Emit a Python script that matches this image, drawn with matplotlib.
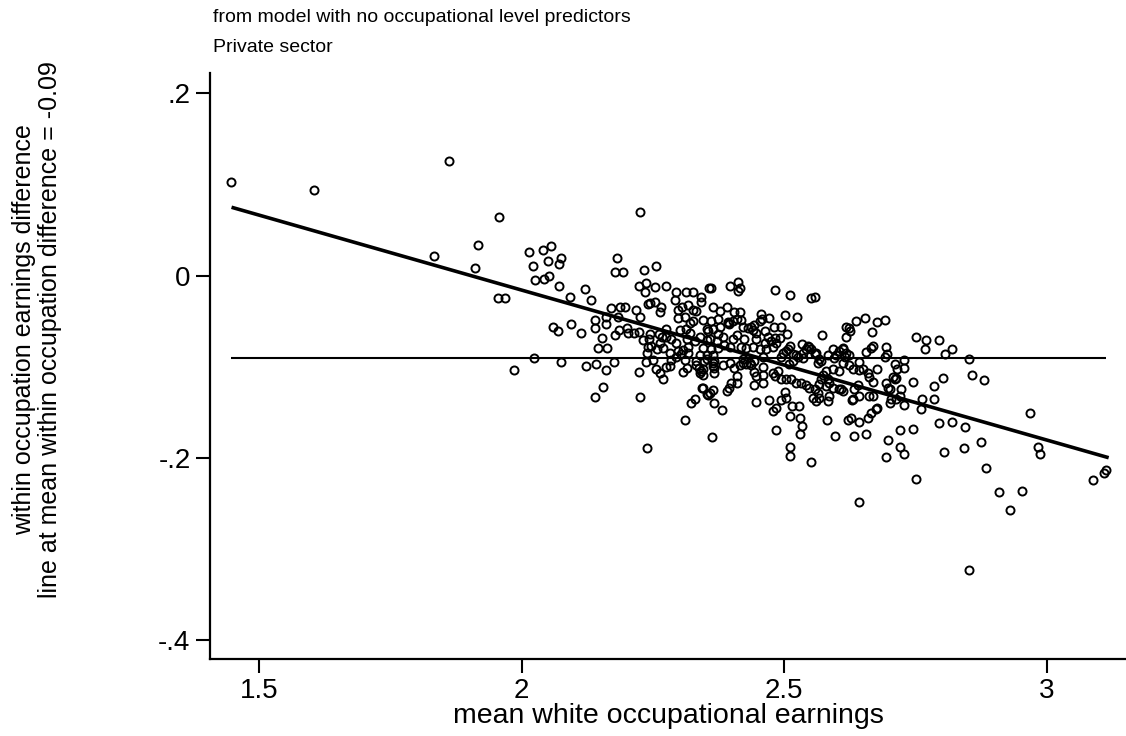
import matplotlib
matplotlib.use("Agg")
import matplotlib.pyplot as plt
import numpy as np

# ---------------- data ----------------
earn_x = [
    1.446, 1.605, 1.861, 1.957, 1.916, 1.832, 1.910, 1.954, 1.968, 1.985, 2.023,
    2.013, 2.041, 2.055, 2.021, 2.049, 2.074, 2.070, 2.026, 2.042, 2.051, 2.070, 2.091, 2.120, 2.131,
    2.226, 2.181, 2.177, 2.193, 2.232, 2.255, 2.224, 2.236, 2.234, 2.240, 2.169, 2.188, 2.197, 2.217,
    2.226, 2.160, 2.184, 2.139, 2.161, 2.139, 2.059, 2.068, 2.093, 2.112, 2.152, 2.177, 2.185, 2.200,
    2.203, 2.214, 2.224, 2.231, 2.146, 2.162,
    2.074, 2.123, 2.142, 2.161, 2.175, 2.155, 2.139, 2.223, 2.226, 2.237, 2.239, 2.240, 2.239, 2.250,
    2.253, 2.275, 2.294, 2.313, 2.326, 2.341, 2.356, 2.291, 2.341, 2.317, 2.305, 2.327, 2.331, 2.297,
    2.266, 2.263, 2.244, 2.253, 2.298, 2.311, 2.326, 2.320, 2.345,
    2.244, 2.242, 2.247, 2.261, 2.267, 2.263, 2.269, 2.258,
    2.275, 2.275, 2.285, 2.294, 2.301, 2.312, 2.320, 2.315, 2.316, 2.307, 2.297, 2.282, 2.329, 2.339,
    2.352, 2.352, 2.346, 2.352,
    2.360, 2.397, 2.412, 2.415, 2.411, 2.483, 2.511, 2.550, 2.559,
    2.364, 2.377, 2.390, 2.361, 2.374, 2.405, 2.416, 2.409, 2.418, 2.402, 2.393, 2.394, 2.392,
    2.456, 2.458, 2.471, 2.453, 2.501, 2.525, 2.480, 2.493, 2.505, 2.437, 2.443, 2.431, 2.440, 2.447,
    2.421, 2.424, 2.409, 2.402, 2.418, 2.428, 2.463, 2.469, 2.482, 2.491, 2.475, 2.463, 2.447, 2.440,
    2.453, 2.364, 2.374, 2.383, 2.377, 2.355, 2.358, 2.371, 2.386, 2.396, 2.361, 2.510, 2.507, 2.497,
    2.494, 2.534, 2.545, 2.550, 2.558, 2.535, 2.523, 2.572, 2.618, 2.618, 2.612, 2.599,
    2.269, 2.256, 2.263, 2.275, 2.282, 2.285, 2.304, 2.294, 2.307, 2.315, 2.310, 2.323, 2.329, 2.344,
    2.332, 2.332, 2.345, 2.352, 2.364, 2.367, 2.367, 2.316, 2.339, 2.364, 2.374, 2.355, 2.364, 2.358,
    2.367, 2.382, 2.363, 2.390, 2.395, 2.399, 2.409, 2.410, 2.405, 2.396, 2.384, 2.421, 2.434, 2.443,
    2.447, 2.459, 2.459, 2.443, 2.447, 2.470, 2.485, 2.478, 2.494, 2.504, 2.501, 2.485, 2.511, 2.530,
    2.534, 2.530, 2.511, 2.511, 2.550, 2.515, 2.528, 2.582, 2.596, 2.621,
    2.459, 2.466, 2.478, 2.485, 2.504, 2.516, 2.526, 2.535, 2.542, 2.548, 2.561, 2.564, 2.570, 2.583,
    2.593, 2.605, 2.612, 2.618,
    2.478, 2.482, 2.488, 2.494, 2.504, 2.513, 2.523, 2.532, 2.542, 2.548, 2.558, 2.564, 2.567, 2.554,
    2.570, 2.583, 2.586, 2.593, 2.605, 2.612, 2.586, 2.583, 2.561, 2.459, 2.509, 2.516,
    2.310, 2.337, 2.342, 2.345, 2.345, 2.352,
    2.339, 2.364, 2.367, 2.348, 2.415, 2.428, 2.437, 2.443, 2.421,
    2.653, 2.637, 2.676, 2.691, 2.668, 2.623, 2.626, 2.666, 2.669, 2.655, 2.693, 2.696, 2.692,
    2.751, 2.770, 2.794, 2.768, 2.807, 2.820, 2.851, 2.858, 2.881, 2.969, 2.984, 2.987, 3.088, 3.109,
    3.113, 2.910, 2.953, 2.930, 2.884, 2.875, 2.843, 2.845, 2.805, 2.820, 2.794, 2.851, 2.751, 2.642,
    2.694, 2.729, 2.720, 2.697, 2.721, 2.746, 2.632, 2.655, 2.642, 2.628, 2.660, 2.665, 2.674, 2.677,
    2.746, 2.786, 2.803, 2.786, 2.763, 2.760, 2.729, 2.702, 2.704, 2.713, 2.723, 2.721, 2.701, 2.694,
    2.697, 2.710, 2.713, 2.707, 2.729, 2.729, 2.710, 2.714, 2.677, 2.642, 2.631, 2.650, 2.659, 2.662,
    2.669, 2.640, 2.633, 2.631, 2.643, 2.662, 2.669, 2.609, 2.629,
    2.567, 2.594, 2.615, 2.623, 2.612, 2.624, 2.643, 2.605, 2.593, 2.580, 2.574, 2.580, 2.567,
]
diff_y = [
    0.103, 0.094, 0.126, 0.064, 0.034, 0.021, 0.008, -0.025, -0.025, -0.104, -0.091,
    0.026, 0.028, 0.032, 0.010, 0.016, 0.019, 0.013, -0.005, -0.004, 0.000, -0.012, -0.023, -0.015, -0.027,
    0.070, 0.019, 0.004, 0.004, 0.006, 0.011, -0.012, -0.008, -0.018, -0.031, -0.036, -0.034, -0.034, -0.038,
    -0.045, -0.045, -0.046, -0.049, -0.053, -0.058, -0.056, -0.061, -0.053, -0.063, -0.069, -0.065, -0.060, -0.058,
    -0.063, -0.063, -0.062, -0.071, -0.079, -0.079,
    -0.095, -0.0995, -0.097, -0.104, -0.095, -0.122, -0.133, -0.106, -0.133, -0.095, -0.085, -0.078, -0.189, -0.093,
    -0.013, -0.012, -0.018, -0.018, -0.018, -0.023, -0.014, -0.027, -0.029, -0.032, -0.035, -0.038, -0.039, -0.038,
    -0.035, -0.040, -0.030, -0.029, -0.047, -0.046, -0.050, -0.052, -0.049,
    -0.064, -0.070, -0.077, -0.064, -0.068, -0.074, -0.080, -0.081,
    -0.059, -0.068, -0.070, -0.074, -0.060, -0.059, -0.063, -0.070, -0.078, -0.082, -0.083, -0.085, -0.072, -0.067,
    -0.059, -0.071, -0.080, -0.087,
    -0.014, -0.012, -0.007, -0.014, -0.017, -0.016, -0.021, -0.025, -0.023,
    -0.035, -0.039, -0.035, -0.050, -0.048, -0.040, -0.040, -0.048, -0.049, -0.050, -0.052, -0.053, -0.051,
    -0.042, -0.048, -0.047, -0.050, -0.043, -0.045, -0.057, -0.056, -0.064, -0.056, -0.054, -0.058, -0.060, -0.063,
    -0.057, -0.070, -0.065, -0.070, -0.078, -0.079, -0.061, -0.067, -0.069, -0.069, -0.072, -0.074, -0.070, -0.078,
    -0.081, -0.059, -0.064, -0.068, -0.057, -0.061, -0.070, -0.072, -0.076, -0.078, -0.081, -0.077, -0.081, -0.085,
    -0.089, -0.075, -0.077, -0.081, -0.086, -0.085, -0.087, -0.065, -0.057, -0.067, -0.081, -0.087,
    -0.114, -0.103, -0.107, -0.100, -0.099, -0.093, -0.086, -0.089, -0.106, -0.102, -0.159, -0.140, -0.135, -0.124,
    -0.094, -0.098, -0.103, -0.092, -0.096, -0.107, -0.101, -0.085, -0.087, -0.087, -0.079, -0.131, -0.126, -0.129,
    -0.140, -0.148, -0.177, -0.127, -0.123, -0.118, -0.110, -0.118, -0.101, -0.096, -0.098, -0.096, -0.096, -0.106,
    -0.110, -0.100, -0.118, -0.120, -0.139, -0.137, -0.145, -0.149, -0.137, -0.134, -0.128, -0.170, -0.154, -0.156,
    -0.165, -0.174, -0.188, -0.198, -0.205, -0.143, -0.143, -0.159, -0.176, -0.159,
    -0.089, -0.081, -0.078, -0.074, -0.083, -0.086, -0.089, -0.090, -0.081, -0.078, -0.085, -0.096, -0.094, -0.087,
    -0.081, -0.083, -0.079, -0.085,
    -0.107, -0.110, -0.105, -0.114, -0.114, -0.114, -0.118, -0.118, -0.120, -0.123, -0.125, -0.129, -0.134, -0.134,
    -0.114, -0.114, -0.118, -0.123, -0.125, -0.127, -0.132, -0.138, -0.138, -0.109, -0.097, -0.094,
    -0.093, -0.101, -0.105, -0.109, -0.123, -0.130,
    -0.107, -0.099, -0.094, -0.094, -0.098, -0.097, -0.098, -0.094, -0.092,
    -0.047, -0.050, -0.051, -0.049, -0.062, -0.058, -0.061, -0.079, -0.077, -0.084, -0.078, -0.086, -0.089,
    -0.068, -0.071, -0.071, -0.081, -0.086, -0.081, -0.092, -0.109, -0.115, -0.151, -0.188, -0.196, -0.224, -0.217,
    -0.214, -0.238, -0.236, -0.257, -0.211, -0.183, -0.189, -0.166, -0.194, -0.161, -0.162, -0.323, -0.223, -0.249,
    -0.199, -0.196, -0.188, -0.181, -0.170, -0.169, -0.176, -0.174, -0.161, -0.156, -0.156, -0.151, -0.147, -0.145,
    -0.117, -0.121, -0.113, -0.135, -0.135, -0.146, -0.142, -0.140, -0.136, -0.136, -0.125, -0.132, -0.125, -0.118,
    -0.123, -0.114, -0.112, -0.111, -0.093, -0.101, -0.097, -0.103, -0.103, -0.095, -0.103, -0.103, -0.107, -0.111,
    -0.117, -0.120, -0.125, -0.136, -0.132, -0.132, -0.132, -0.125, -0.137,
    -0.092, -0.091, -0.089, -0.087, -0.096, -0.098, -0.104, -0.105, -0.103, -0.105, -0.109, -0.121, -0.119,
]

fit_x = [1.447, 3.118]
fit_y = [0.075, -0.200]
mean_diff = -0.09

x_ticks = [1.5, 2, 2.5, 3]
x_ticklabels = ["1.5", "2", "2.5", "3"]
y_ticks = [-0.4, -0.2, 0, 0.2]
y_ticklabels = ["-.4", "-.2", "0", ".2"]

title_lines = ["from model with no occupational level predictors", "Private sector"]
ylabel_text = "within occupation earnings difference\nline at mean within occupation difference = -0.09"
xlabel_text = "mean white occupational earnings"

# ---------------- plot ----------------
fam = ['Liberation Sans', 'DejaVu Sans']
plt.rcParams['font.family'] = fam

fig = plt.figure(figsize=(11.26, 7.36), dpi=100)
ax = fig.add_axes([210/1126, 77/736, 916/1126, 586/736])

ax.plot(earn_x, diff_y, linestyle='none', marker='o', markersize=5.8,
        markerfacecolor='none', markeredgecolor='black', markeredgewidth=1.4)
ax.plot(fit_x, fit_y, color='black', linewidth=2.6, solid_capstyle='butt')
ax.hlines(mean_diff, min(earn_x), max(earn_x), color='black', linewidth=1.5)

ax.set_xlim(1.406, 3.151)
ax.set_ylim(-0.421, 0.2224)
ax.set_xticks(x_ticks)
ax.set_xticklabels(x_ticklabels)
ax.set_yticks(y_ticks)
ax.set_yticklabels(y_ticklabels)

for s in ['top', 'right']:
    ax.spines[s].set_visible(False)
for s in ['left', 'bottom']:
    ax.spines[s].set_linewidth(1.6)
ax.tick_params(axis='both', direction='out', length=10, width=1.5, labelsize=20, pad=4)

ax.set_xlabel(xlabel_text, fontsize=20.5, labelpad=-1)
fig.text(37/1126, 1 - 330/736, ylabel_text, rotation=90, ha='center', va='center',
         fontsize=18, linespacing=1.15)
fig.text(213/1126, 1 - 18/736, title_lines[0], ha='left', va='center', fontsize=14)
fig.text(213/1126, 1 - 47/736, title_lines[1], ha='left', va='center', fontsize=14)

fig.savefig("out.png", dpi=100)
